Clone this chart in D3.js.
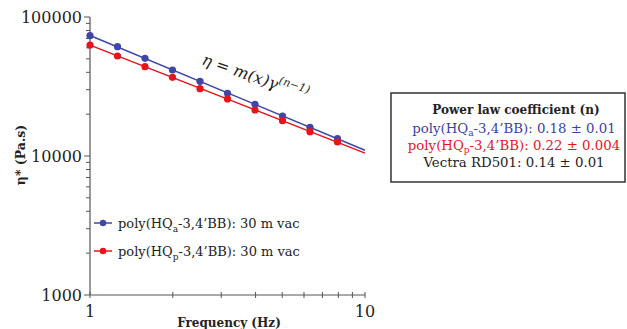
<!DOCTYPE html>
<html>
<head>
<meta charset="utf-8">
<script src="https://cdn.jsdelivr.net/npm/d3@7"></script>
<style>
  body { margin: 0; background: #fff; }
</style>
</head>
<body>
<svg id="chart"></svg>
<script>
// frequencies (Hz) and complex viscosity (Pa.s)
var freq = [1, 1.259, 1.585, 1.995, 2.512, 3.162, 3.981, 5.012, 6.310, 7.943];
var etaA = [73400, 61150, 50450, 41560, 34470, 28260, 23540, 19400, 16090, 13320];
var etaP = [62900, 52410, 43890, 36830, 30500, 25720, 21430, 17950, 14950, 12610];
var yTicks = [1000, 10000, 100000];
var xTicks = [1, 10];
var coefLines = [
    { label: ["poly(HQ", "a", "-3,4’BB): 0.18 ± 0.01"], color: "#3b3fa6" },
    { label: ["poly(HQ", "p", "-3,4’BB): 0.22 ± 0.004"], color: "#e8141c" },
    { label: ["Vectra RD501: 0.14 ± 0.01"], color: "#222" }
];

var width = 627, height = 329;
var svg = d3.select("#chart").attr("width", width).attr("height", height)
    .attr("font-family", "'DejaVu Serif', serif");

var x = d3.scaleLog().domain([1, 10]).range([90, 365]);
var y = d3.scaleLog().domain([1000, 100000]).range([295, 17]);

var blue = "#4046a8", red = "#e8141c";

// axes
svg.append("line").attr("x1", 90).attr("x2", 90).attr("y1", 17).attr("y2", 295)
    .attr("stroke", "#555").attr("stroke-width", 1.2);
svg.append("line").attr("x1", 90).attr("x2", 365).attr("y1", 295).attr("y2", 295)
    .attr("stroke", "#555").attr("stroke-width", 1.2);

// y ticks (major + minor)
svg.selectAll(".ytick").data(y.ticks()).enter().append("line")
    .attr("x1", d => yTicks.indexOf(d) >= 0 ? 84 : 86).attr("x2", 90)
    .attr("y1", d => y(d)).attr("y2", d => y(d))
    .attr("stroke", "#555").attr("stroke-width", 1);
svg.selectAll(".ylab").data(yTicks).enter().append("text")
    .attr("x", 82).attr("y", d => y(d) + 5.5)
    .attr("text-anchor", "end").attr("font-size", 16).attr("fill", "#222")
    .text(d => d);

// x ticks
svg.selectAll(".xtick").data(x.ticks()).enter().append("line")
    .attr("x1", d => x(d)).attr("x2", d => x(d))
    .attr("y1", 292).attr("y2", 298)
    .attr("stroke", "#555").attr("stroke-width", 1);
svg.selectAll(".xlab").data(xTicks).enter().append("text")
    .attr("x", d => x(d)).attr("y", 317)
    .attr("text-anchor", "middle").attr("font-size", 16).attr("fill", "#222")
    .text(d => d);

svg.append("text").attr("x", 229).attr("y", 327)
    .attr("text-anchor", "middle").attr("font-size", 12).attr("font-weight", "bold")
    .attr("fill", "#222").text("Frequency (Hz)");

svg.append("text").attr("transform", "translate(25,155) rotate(-90)")
    .attr("text-anchor", "middle").attr("font-size", 12.5).attr("font-weight", "bold")
    .attr("fill", "#222").text("η* (Pa.s)");

// power-law fit in log-log space, drawn from 1 to 10 Hz
function fit(xs, ys) {
    var lx = xs.map(Math.log10), ly = ys.map(Math.log10);
    var mx = d3.mean(lx), my = d3.mean(ly);
    var b = d3.sum(lx, (v, i) => (v - mx) * (ly[i] - my)) / d3.sum(lx, v => (v - mx) * (v - mx));
    var a = my - b * mx;
    return f => Math.pow(10, a + b * Math.log10(f));
}

[[etaA, blue], [etaP, red]].forEach(function (s) {
    var f = fit(freq, s[0]);
    svg.append("line")
        .attr("x1", x(1)).attr("y1", y(f(1)))
        .attr("x2", x(10)).attr("y2", y(f(10)))
        .attr("stroke", s[1]).attr("stroke-width", 1.5);
    svg.append("g").selectAll("circle").data(freq).enter().append("circle")
        .attr("cx", d => x(d)).attr("cy", (d, i) => y(s[0][i]))
        .attr("r", 3.6).attr("fill", s[1]);
});

// equation
svg.append("text").attr("transform", "translate(201,64) rotate(19)")
    .attr("font-size", 16).attr("font-style", "italic").attr("fill", "#222")
    .html('η = m(x)γ<tspan dy="-7" font-size="11">(n−1)</tspan>');

// series legend
var legend = [
    { sub: "a", color: blue, y: 223 },
    { sub: "p", color: red, y: 251 }
];
legend.forEach(function (l) {
    svg.append("line").attr("x1", 94).attr("x2", 112).attr("y1", l.y).attr("y2", l.y)
        .attr("stroke", l.color).attr("stroke-width", 1.5);
    svg.append("circle").attr("cx", 103).attr("cy", l.y).attr("r", 3.2).attr("fill", l.color);
    var t = svg.append("text").attr("x", 118).attr("y", l.y + 5)
        .attr("font-size", 13).attr("fill", "#222");
    t.append("tspan").text("poly(HQ");
    t.append("tspan").attr("dy", 4).attr("font-size", 9).text(l.sub);
    t.append("tspan").attr("dy", -4).text("-3,4’BB): 30 m vac");
});

// coefficient box
svg.append("rect").attr("x", 391).attr("y", 93).attr("width", 234).attr("height", 89)
    .attr("fill", "#fff").attr("stroke", "#333").attr("stroke-width", 1.5);
svg.append("text").attr("x", 516).attr("y", 114)
    .attr("text-anchor", "middle").attr("font-size", 12).attr("font-weight", "bold")
    .attr("fill", "#222").text("Power law coefficient (n)");
coefLines.forEach(function (c, i) {
    var t = svg.append("text").attr("x", 514).attr("y", 133 + i * 17)
        .attr("text-anchor", "middle").attr("font-size", 13.3).attr("fill", c.color);
    if (c.label.length === 1) {
        t.text(c.label[0]);
    } else {
        t.append("tspan").text(c.label[0]);
        t.append("tspan").attr("dy", 3).attr("font-size", 9).text(c.label[1]);
        t.append("tspan").attr("dy", -3).text(c.label[2]);
    }
});
</script>
</body>
</html>
